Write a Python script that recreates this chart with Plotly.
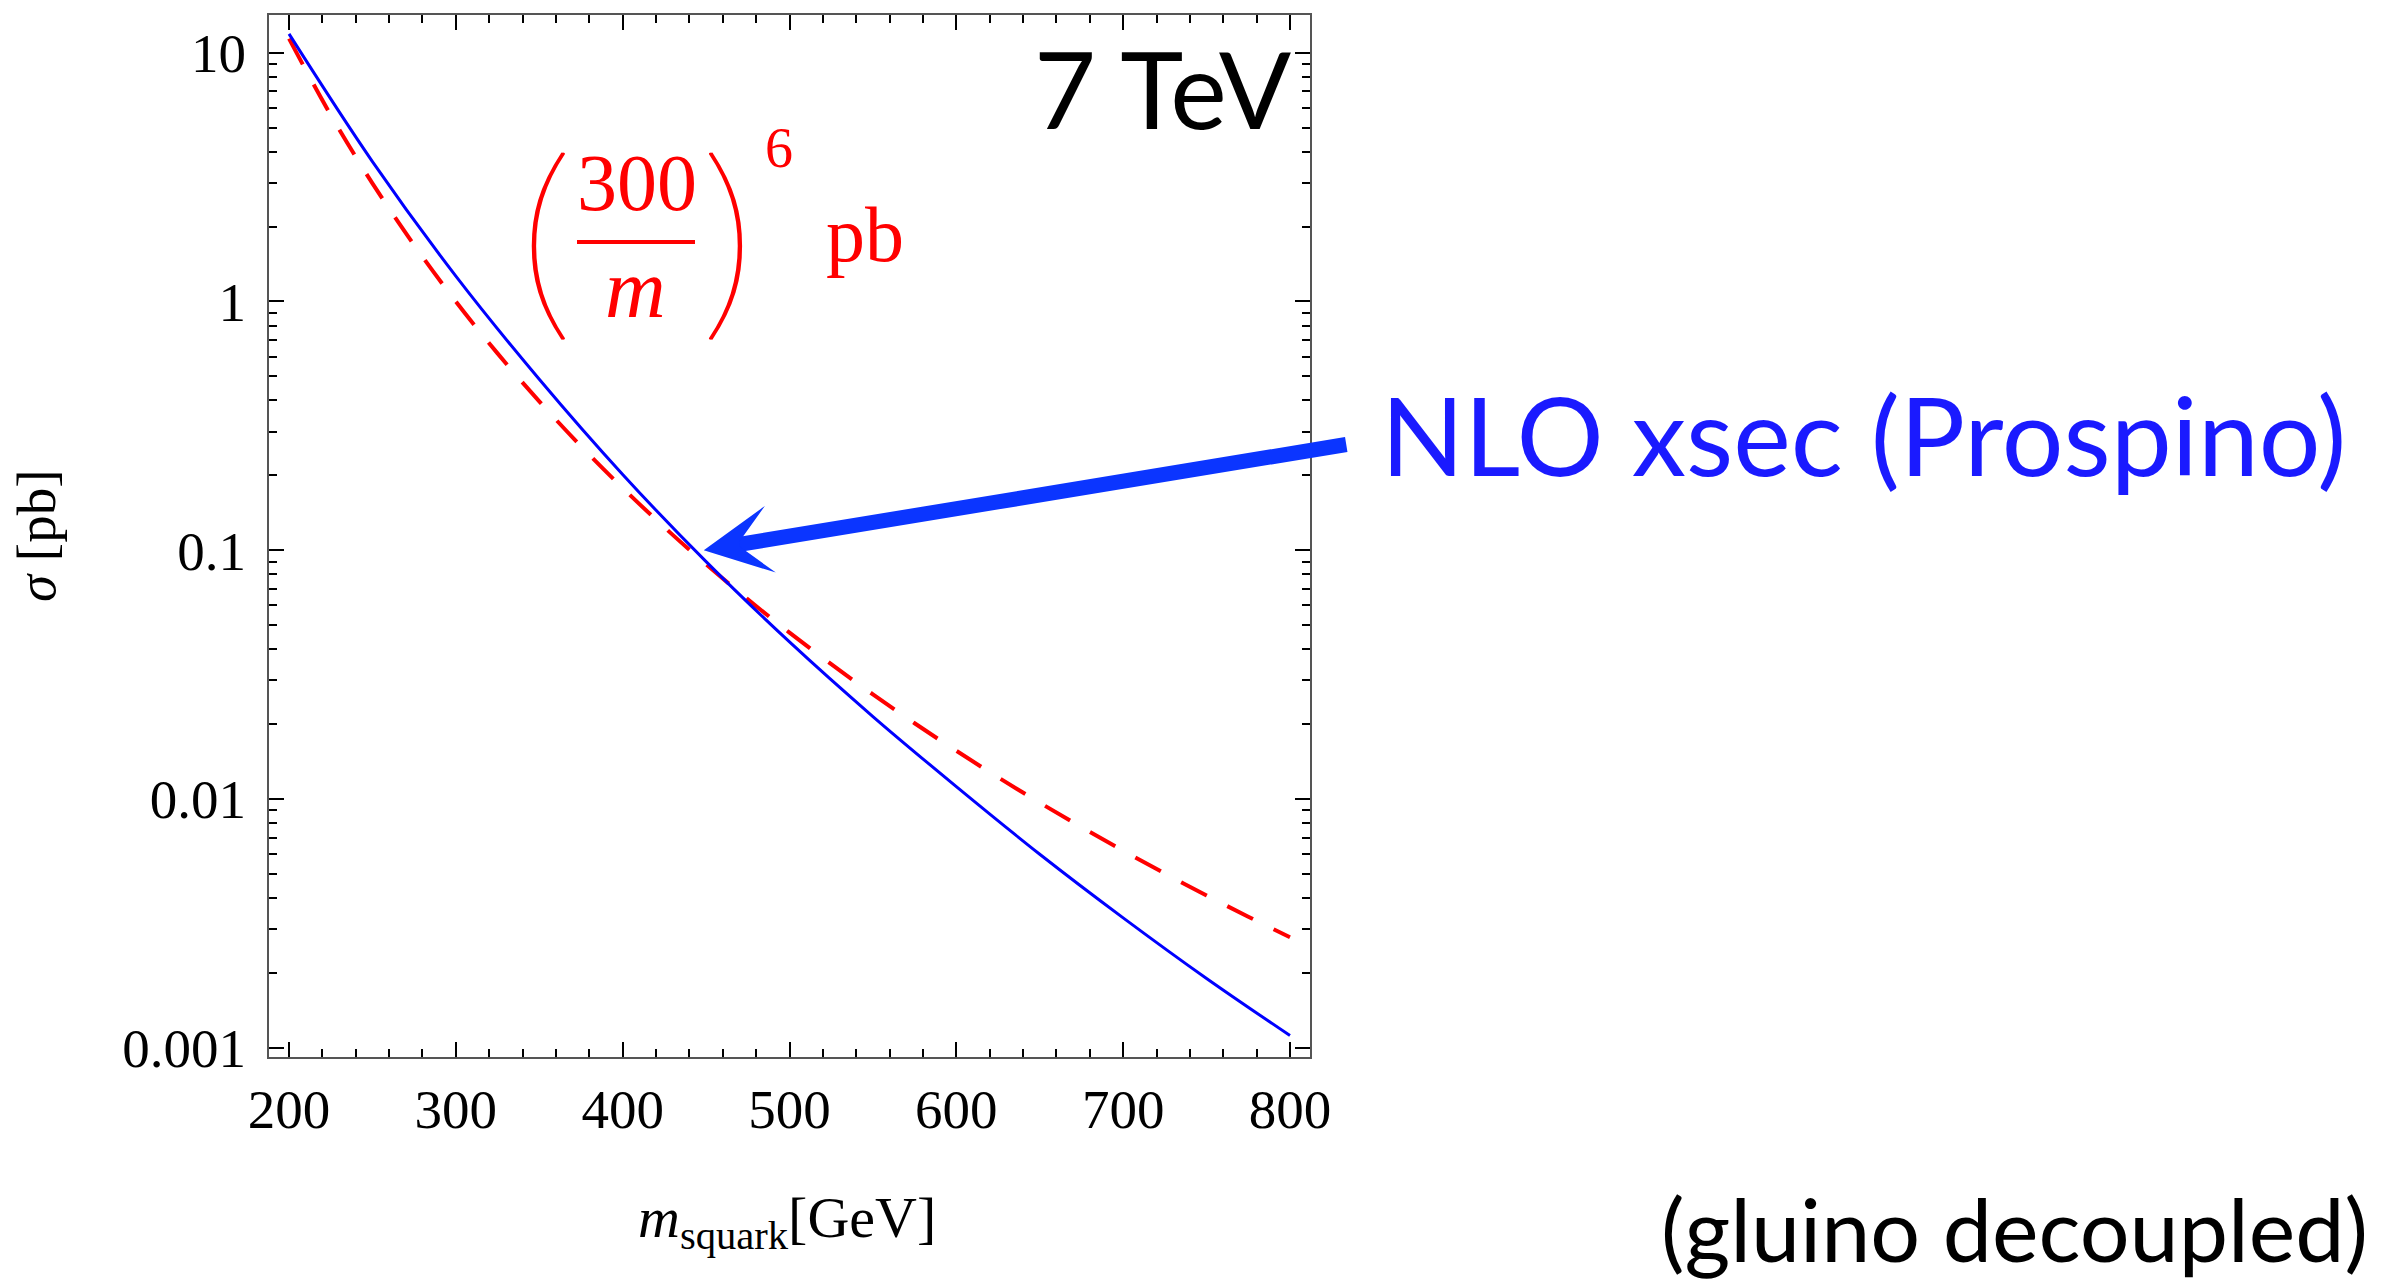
import plotly.graph_objects as go

# ---- data ----
m_nlo = [200, 250, 300, 350, 400, 450, 500, 550, 600, 650, 700, 750, 800]
sigma_nlo = [11.9, 3.65, 1.265, 0.487, 0.2017, 0.0900, 0.0428, 0.02146, 0.01122, 0.00600, 0.00333, 0.00190, 0.00112]

m_fit = [200, 225, 250, 275, 300, 325, 350, 375, 400, 425, 450, 475, 500, 525,
         550, 575, 600, 625, 650, 675, 700, 725, 750, 775, 800]
sigma_fit = [11.39, 5.619, 2.986, 1.686, 1.0, 0.6186, 0.3966, 0.2621, 0.1780, 0.1237,
             0.08779, 0.06347, 0.04666, 0.03482, 0.02634, 0.02017, 0.015625, 0.01223,
             0.009666, 0.007707, 0.006196, 0.005020, 0.004096, 0.003364, 0.002781]

x_major = [200, 300, 400, 500, 600, 700, 800]
y_major = [0.001, 0.01, 0.1, 1, 10]
y_major_text = ["0.001", "0.01", "0.1", "1", "10"]

# ---- geometry (pixels) ----
W, H = 2394, 1283
L, R, T, B = 269, 1310, 15, 1057

def px(x):
    return (x - L) / (R - L)

def py(y):
    return (B - y) / (B - T)

SERIF = "Liberation Serif"
SANS = "Lato"

fig = go.Figure()
fig.add_trace(go.Scatter(x=m_fit, y=sigma_fit, mode="lines",
                         line=dict(color="#ff0000", width=4, dash="29px,23px", shape="spline"),
                         hoverinfo="skip", showlegend=False))
fig.add_trace(go.Scatter(x=m_nlo, y=sigma_nlo, mode="lines",
                         line=dict(color="#0000ff", width=3, shape="spline"),
                         hoverinfo="skip", showlegend=False))

y_minor = [k * 10.0 ** d for d in range(-4, 2) for k in range(2, 10)]

axis_common = dict(showline=True, linecolor="#555555", linewidth=2, mirror="allticks",
                   ticks="inside", ticklen=15, tickwidth=1.5, tickcolor="#000000",
                   showgrid=False, zeroline=False,
                   tickfont=dict(family=SERIF, size=55, color="#000000"))

fig.update_xaxes(range=[188, 812], tickmode="array", tickvals=x_major,
                 ticktext=[str(v) for v in x_major], ticklabelstandoff=3,
                 minor=dict(ticks="inside", ticklen=8, tickwidth=1.5, tickcolor="#000000",
                            dtick=20, tick0=200, showgrid=False),
                 **axis_common)
fig.update_yaxes(type="log", range=[-3.037, 1.1516], tickmode="array", tickvals=y_major,
                 ticktext=y_major_text, ticklabelstandoff=10,
                 minor=dict(ticks="inside", ticklen=8, tickwidth=1.5, tickcolor="#000000",
                            tickmode="array", tickvals=y_minor, showgrid=False),
                 **axis_common)

ann = []
def text(t, x, y, size, family, color="#000000", xanchor="center", yanchor="bottom",
         angle=0, weight="normal", shadow="none"):
    ann.append(dict(text=t, x=px(x), y=py(y), xref="paper", yref="paper", showarrow=False,
                    xanchor=xanchor, yanchor=yanchor, textangle=angle,
                    font=dict(family=family, size=size, color=color, weight=weight,
                              shadow=shadow)))

# 7 TeV
text("7 TeV", 1294, 130 + 0.213 * 107 + 1, 107, SANS, xanchor="right")
# NLO label
text("NLO xsec (Prospino)", 1379, 477 + 0.213 * 109 + 1, 109, SANS, color="#1a1aff", xanchor="left")
# gluino decoupled
text("(gluino decoupled)", 2370, 1263 + 0.213 * 88 + 1, 88, SANS, xanchor="right")

# red formula (300/m)^6 pb
paren_shadow = "1px 0px 0px #ff0000, -1px 0px 0px #ff0000"
text("(", 546, 231, 215, SANS, color="#ff0000", yanchor="middle", weight=200, shadow=paren_shadow)
text(")", 728, 231, 215, SANS, color="#ff0000", yanchor="middle", weight=200, shadow=paren_shadow)
text("300", 636.5, 211 + 0.216 * 80 + 1, 80, SERIF, color="#ff0000")
text("<i>m</i>", 635.5, 318 + 0.216 * 84 + 1, 84, SERIF, color="#ff0000")
text("6", 778.5, 168 + 0.216 * 56 + 1, 56, SERIF, color="#ff0000")
text("pb", 824, 262 + 0.216 * 78 + 1, 78, SERIF, color="#ff0000", xanchor="left")

# axis titles
text("<i>m</i><sub>squark</sub>[GeV]", 787, 1260, 58, SERIF)
text("<i>σ</i> [pb]", 36, 536, 55, SERIF, xanchor="center", yanchor="middle", angle=-90)

# arrow pointing to NLO curve
ann.append(dict(x=448.6, y=-1.0, xref="x", yref="y", text="", showarrow=True,
                ax=644, ay=-106, axref="pixel", ayref="pixel",
                arrowhead=3, arrowsize=0.75, arrowwidth=15, arrowcolor="#0b35ff", standoff=0))

shapes = [dict(type="line", xref="paper", yref="paper", x0=px(577), x1=px(695),
               y0=py(242), y1=py(242), line=dict(color="#ff0000", width=4))]

fig.update_layout(width=W, height=H, autosize=False,
                  margin=dict(l=L, r=W - R, t=T, b=H - B, pad=0),
                  paper_bgcolor="#ffffff", plot_bgcolor="#ffffff",
                  annotations=ann, shapes=shapes, showlegend=False)

fig.write_html("out.html", config={"displayModeBar": False},
               post_script="document.body.style.margin='0px';document.body.style.overflow='hidden';")
